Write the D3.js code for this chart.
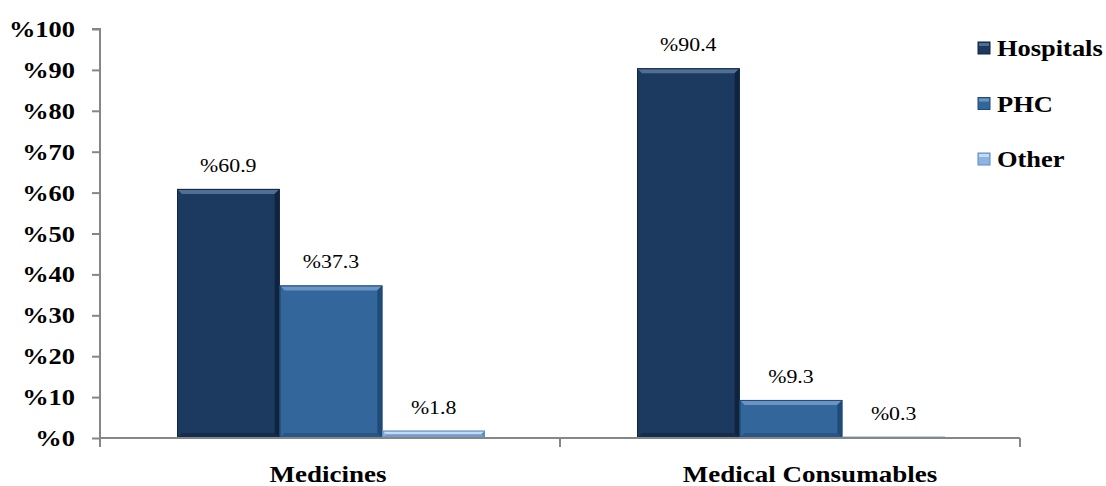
<!DOCTYPE html>
<html><head><meta charset="utf-8">
<script src="https://cdn.jsdelivr.net/npm/d3@7"></script>
<style>body{margin:0;background:#fff}svg{display:block}text{font-family:"Liberation Serif","Times New Roman",Times,serif}</style>
</head><body>
<script>
const categories = ["Medicines", "Medical Consumables"];
const seriesNames = ["Hospitals", "PHC", "Other"];
const hospitals = [60.9, 90.4];
const phc = [37.3, 9.3];
const other = [1.8, 0.3];
const yTicks = [0, 10, 20, 30, 40, 50, 60, 70, 80, 90, 100];
const colors = ["#1c3a60", "#33669a", "#8db4e2"];
const hi = ["#4f6f97", "#6a94c4", "#c4dbf4"];
const lo = ["#10243f", "#204a78", "#5d8cc4"];

const W = 1106, H = 486, SX = 1.15;
const svg = d3.select("body").append("svg").attr("width", W).attr("height", H);
const x0 = d3.scaleBand().domain(categories).range([100, 1020]).paddingInner(0).paddingOuter(0);
const x1 = d3.scaleBand().domain(seriesNames).range([77, 460 - 75]).padding(0);
const y = d3.scaleLinear().domain([0, 100]).range([438, 29]);

const data = categories.map((c, i) => ({cat: c, vals: [hospitals[i], phc[i], other[i]]}));

function stext(g, x, y0, str, size, weight, anchor) {
  return g.append("text").attr("transform", `translate(${x},${y0}) scale(${SX},1)`)
    .attr("text-anchor", anchor)
    .attr("font-size", size).attr("font-weight", weight).attr("fill", "#000").text(str);
}

// bars
data.forEach(d => {
  const g = svg.append("g").attr("transform", `translate(${x0(d.cat)},0)`);
  d.vals.forEach((v, k) => {
    const bx = x1(seriesNames[k]), bw = x1.bandwidth();
    const top = y(v), bot = y(0), bh = bot - top;
    const b = Math.min(5, bh / 2);
    g.append("rect").attr("x", bx).attr("y", top).attr("width", bw).attr("height", bh).attr("fill", colors[k]);
    if (bh > 1) {
      g.append("polygon").attr("points", `${bx},${top} ${bx+bw},${top} ${bx+bw-b},${top+b} ${bx+b},${top+b}`).attr("fill", hi[k]);
      g.append("polygon").attr("points", `${bx+bw},${top} ${bx+bw},${bot} ${bx+bw-b},${bot-b} ${bx+bw-b},${top+b}`).attr("fill", lo[k]);
      g.append("polygon").attr("points", `${bx},${bot} ${bx+bw},${bot} ${bx+bw-b},${bot-b} ${bx+b},${bot-b}`).attr("fill", lo[k]).attr("opacity", 0.6);
    }
    g.append("rect").attr("x", bx + 0.5).attr("y", top + 0.5).attr("width", bw - 1).attr("height", Math.max(0, bh - 1))
      .attr("fill", "none").attr("stroke", lo[k]).attr("stroke-width", 1);
    stext(g, bx + bw / 2, top - 17, "%" + v, 19, "normal", "middle");
  });
});

// y axis
const yAxis = svg.append("g").attr("transform", "translate(100,0)")
  .call(d3.axisLeft(y).tickValues(yTicks).tickSize(8).tickFormat(""));
yAxis.select(".domain").attr("stroke", "#868686").attr("stroke-width", 2).attr("d", `M-8,${y(100)}H0V${y(0)}`);
yAxis.selectAll(".tick line").attr("stroke", "#868686").attr("stroke-width", 2);
yTicks.forEach(t => stext(svg, 75, y(t) + 8, "%" + t, 23, "bold", "end"));

// x axis
const xAxis = svg.append("g").attr("transform", `translate(0,${y(0)})`)
  .call(d3.axisBottom(x0).tickSize(0).tickFormat(""));
xAxis.select(".domain").attr("stroke", "#868686").attr("stroke-width", 2).attr("d", `M100,0H1020`);
[100, 560, 1020].forEach(px => xAxis.append("line").attr("x1", px).attr("x2", px).attr("y1", 0).attr("y2", 9).attr("stroke", "#868686").attr("stroke-width", 2));
const labelShift = [-2, 20];
categories.forEach((c, i) => stext(svg, x0(c) + x0.bandwidth() / 2 + labelShift[i], 482, c, 23.5, "bold", "middle"));

// legend
seriesNames.forEach((s, k) => {
  const cy = 48 + k * 55.5;
  svg.append("rect").attr("x", 978).attr("y", cy - 6).attr("width", 12).attr("height", 12).attr("fill", colors[k]).attr("stroke", lo[k]);
  svg.append("rect").attr("x", 979).attr("y", cy - 5).attr("width", 10).attr("height", 3).attr("fill", hi[k]);
  stext(svg, 997, cy + 8, s, 23, "bold", "start");
});
</script>
</body></html>
